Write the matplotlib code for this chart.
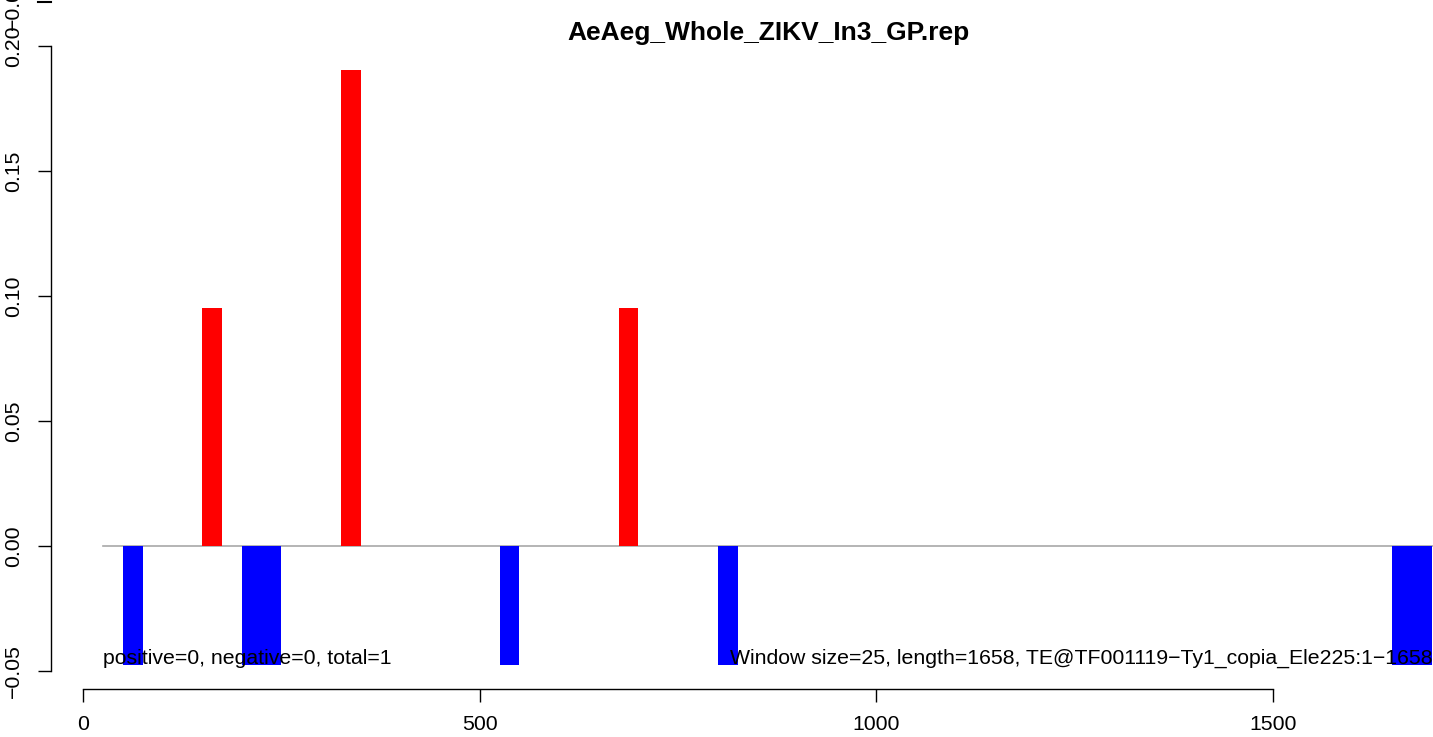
import matplotlib
matplotlib.use("Agg")
import matplotlib.pyplot as plt

plt.rcParams['font.family'] = ['Liberation Sans', 'DejaVu Sans']

# window starts (window size 25) and scores
pos_start = [150, 325, 675]
pos_val = [0.0952, 0.1905, 0.0952]
neg_start = [50, 200, 225, 525, 800, 1650, 1675]
neg_val = [-0.0476, -0.0476, -0.0476, -0.0476, -0.0476, -0.0476, -0.0476]
win = 25
x_ticks = [0, 500, 1000, 1500]
y_ticks = [-0.05, 0.00, 0.05, 0.10, 0.15, 0.20]
y_labels = ['\u22120.05', '0.00', '0.05', '0.10', '0.15', '0.20']
title = "AeAeg_Whole_ZIKV_In3_GP.rep"
left_note = "positive=0, negative=0, total=1"
right_note = "Window size=25, length=1658, TE@TF001119\u2212Ty1_copia_Ele225:1\u22121658"

W, H = 1433, 737
fig = plt.figure(figsize=(W / 100, H / 100), dpi=100)
ax = fig.add_axes([0, 0, 1, 1])

# pixel mapping
sx = 1190 / 1500.0
sy = 2500.0
ax.set_xlim(-83 / sx, (W - 83) / sx)
ax.set_ylim(-(H - 546) / sy, 546 / sy)

ax.plot([25, 1720], [0, 0], color='#a8a8a8', lw=1.2, zorder=1)
ax.bar(pos_start, pos_val, width=win, align='edge', color='red', zorder=2)
ax.bar(neg_start, neg_val, width=win, align='edge', color='blue', zorder=2)

for s in ['top', 'right']:
    ax.spines[s].set_visible(False)
ax.spines['left'].set_position(('data', (51 - 83) / sx))
ax.spines['left'].set_bounds(-0.05, 0.20)
ax.spines['bottom'].set_position(('data', -(689 - 546) / sy))
ax.spines['bottom'].set_bounds(0, 1500)
for s in ['left', 'bottom']:
    ax.spines[s].set_linewidth(1.0)

ax.set_xticks(x_ticks)
ax.set_xticklabels([str(v) for v in x_ticks])
ax.set_yticks(y_ticks)
ax.set_yticklabels(y_labels, rotation=90, va='center')
ax.tick_params(axis='both', length=9.4, width=1.0, labelsize=15.3)
ax.tick_params(axis='x', pad=9)
ax.tick_params(axis='y', pad=11)

ax.text(25, -0.0448, left_note, fontsize=15.3, ha='left', va='center')
ax.text(1701, -0.0448, right_note, fontsize=15.3, ha='right', va='center')

fig.text(768 / W, 1 - 33 / H, title, fontsize=19, fontweight='bold',
         ha='center', va='center')

# stray tick and label at the top edge
ax.plot([(38 - 83) / sx, (51 - 83) / sx], [546 / sy - 0.0006] * 2,
        color='black', lw=1.5, clip_on=False)
fig.text(13 / W, 1 - 30 / H, '\u22120.05', fontsize=15.3, rotation=90,
         ha='center', va='bottom')

fig.savefig('out.png', dpi=100)
